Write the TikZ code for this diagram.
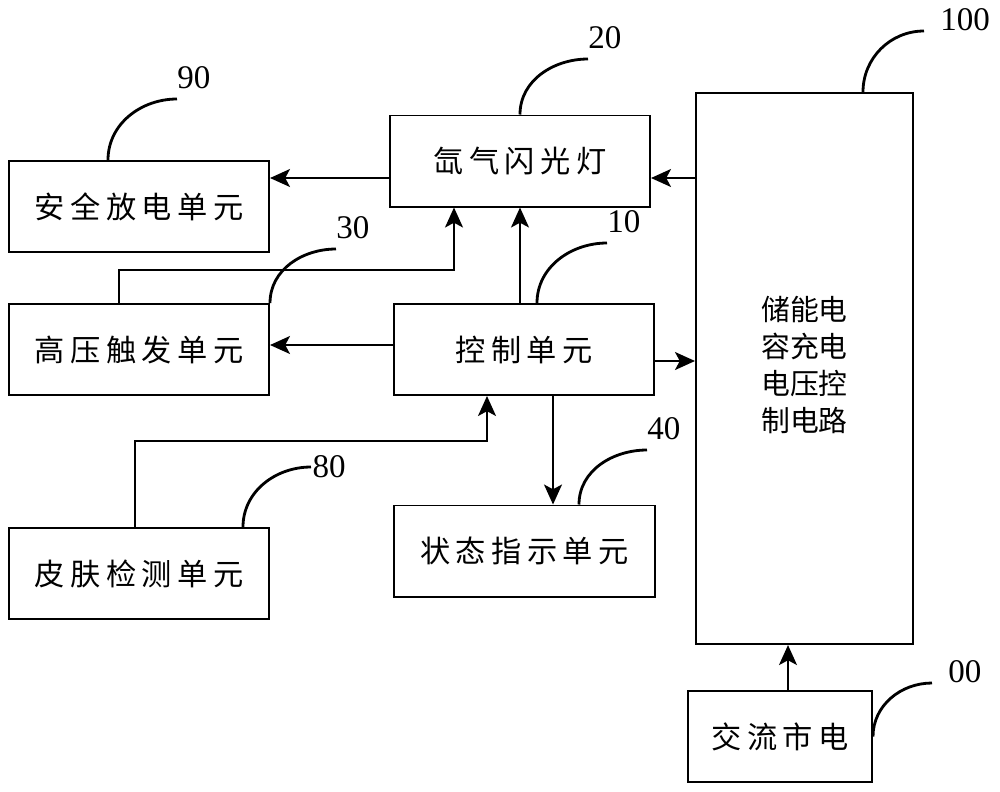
\documentclass[tikz,border=0pt]{standalone}
\usepackage{fontspec}
\setmainfont{Liberation Serif}
\newfontfamily\cjk[LetterSpace=18]{Noto Sans CJK SC}
\newfontfamily\cjkn{Noto Sans CJK SC}
\usetikzlibrary{arrows.meta}

\begin{document}
\begin{tikzpicture}[x=0.025cm,y=-0.025cm,
  box/.style={draw,line width=1.4pt,inner sep=0pt,font=\fontsize{21.5}{24}\cjk,minimum width=6.5cm,minimum height=2.275cm},
  arr/.style={line width=1.3pt,-{Stealth[length=0.5cm,width=0.45cm,inset=0.12cm]}},
  lead/.style={line width=2pt},
  numtop/.style={anchor=south west,inner xsep=0pt,inner ysep=0.25cm,font=\fontsize{23.5}{26}\selectfont},
  numside/.style={anchor=south west,inner xsep=0.2cm,inner ysep=0pt,font=\fontsize{23.5}{26}\selectfont}]
\useasboundingbox (0,0) rectangle (1000,791);
\node[box] (saf) at (139,206.5) {安全放电单元};
\node[box] (xen) at (520,161) {氙气闪光灯};
\node[box] (hv) at (139,349.5) {高压触发单元};
\node[box] (ctl) at (524,349.5) {控制单元};
\node[box] (skin) at (139,573.5) {皮肤检测单元};
\node[box] (sta) at (524.5,551) {状态指示单元};
\node[box,minimum width=5.425cm,minimum height=13.775cm,font=\fontsize{20.5}{26.3}\cjkn] (cap) at (804.5,368.5) {\raisebox{0.27cm}{\begin{tabular}{@{}c@{}}储能电\\容充电\\电压控\\制电路\end{tabular}}};
\node[box,minimum width=4.6cm] (ac) at (780,736.5) {交流市电};
\node[numtop] (n90) at (177,99) {90};
\node[numtop] (n20) at (588,59) {20};
\node[numtop] (n30) at (336,249) {30};
\node[numtop] (n10) at (607,243) {10};
\node[numtop] (n40) at (647,450) {40};
\node[numside] (n100) at (932,31) {100};
\node[numside] (n00) at (940,683) {00};
\node[anchor=west,inner xsep=1pt,inner ysep=0pt,font=\fontsize{23.5}{26}\selectfont] (n80) at (311,467) {80};
\draw[arr] (xen.west |- 0,178) -- (saf.east |- 0,178);
\draw[arr] (cap.west |- 0,178) -- (xen.east |- 0,178);
\draw[arr] (hv.north -| 119,0) -- ++(0,-33) -| (xen.south -| 454,0);
\draw[arr] (ctl.north -| 520,0) -- (xen.south -| 520,0);
\draw[arr] (ctl.west |- 0,345) -- (hv.east |- 0,345);
\draw[arr] (ctl.east |- 0,361) -- (cap.west |- 0,361);
\draw[arr] (skin.north -| 135,0) -- ++(0,-86) -| (ctl.south -| 487,0);
\draw[arr] (ctl.south -| 553,0) -- (sta.north -| 553,0);
\draw[arr] (ac.north -| 788,0) -- (cap.south -| 788,0);
\draw[lead] (saf.north -| 108,0) to[out=90,in=180] (n90.south west);
\draw[lead] (xen.north -| 520,0) to[out=90,in=180] (n20.south west);
\draw[lead] (hv.north east) to[out=90,in=180] (n30.south west);
\draw[lead] (ctl.north -| 537,0) to[out=90,in=180] (n10.south west);
\draw[lead] (sta.north -| 579,0) to[out=90,in=180] (n40.south west);
\draw[lead] (skin.north -| 243,0) to[out=90,in=180] (n80.west);
\draw[lead] (cap.north -| 863,0) to[out=90,in=180] ([xshift=-0.2cm]n100.south west);
\draw[lead] (ac.east) to[out=90,in=180] ([xshift=-0.2cm]n00.south west);
\end{tikzpicture}
\end{document}
